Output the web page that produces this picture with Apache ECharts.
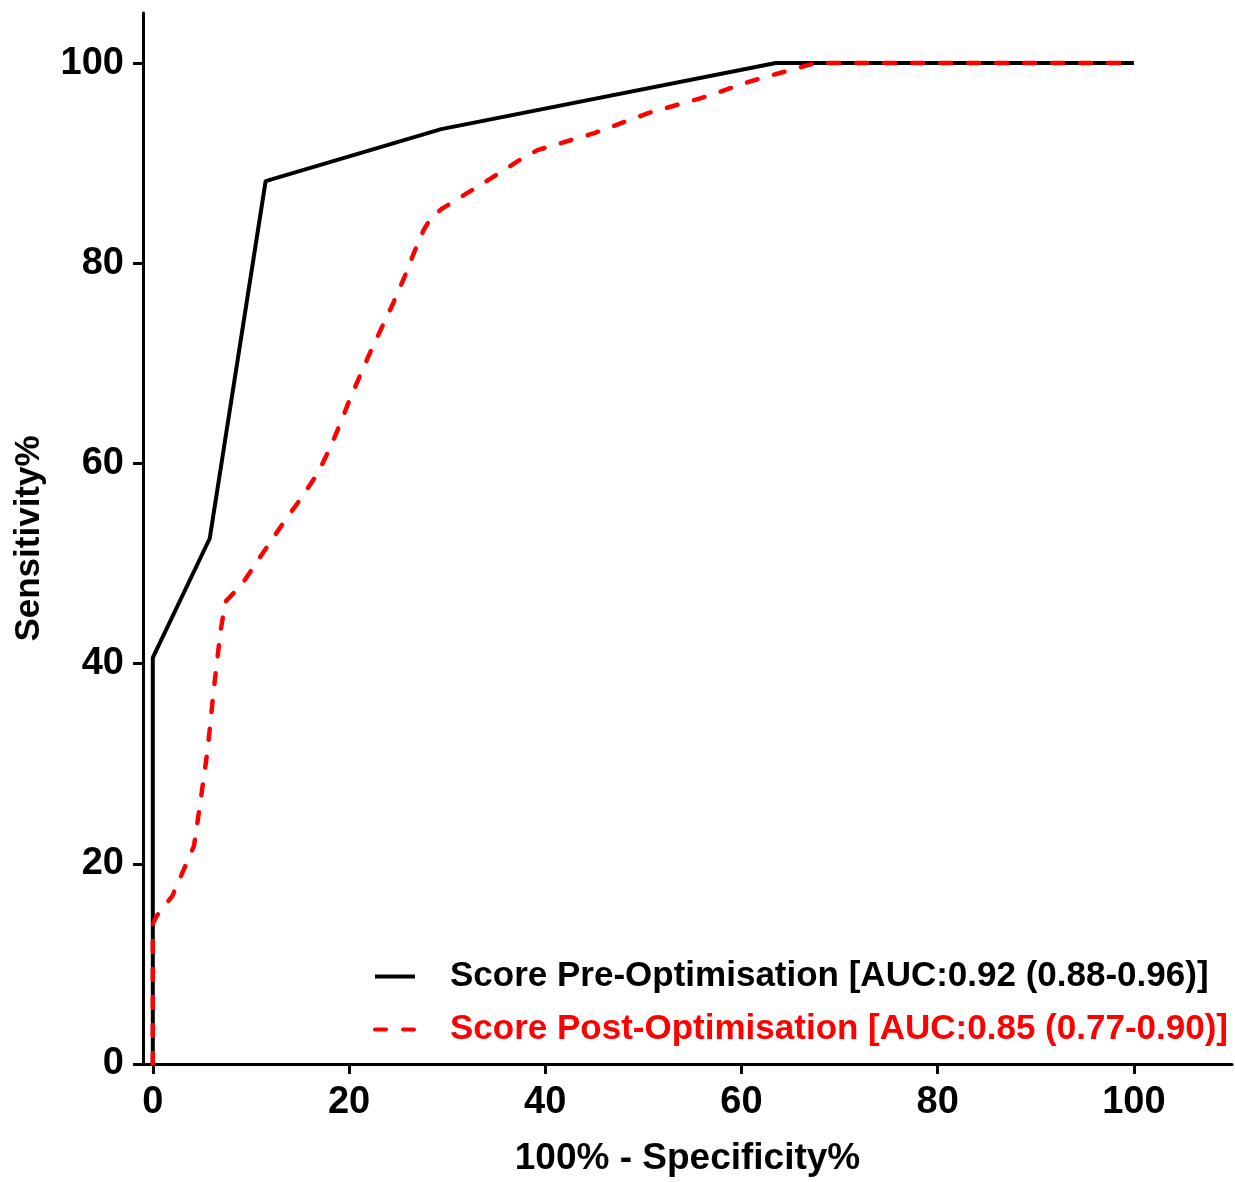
<!DOCTYPE html>
<html>
<head>
<meta charset="utf-8">
<script src="https://cdn.jsdelivr.net/npm/echarts@6/dist/echarts.min.js"></script>
<style>
html,body{margin:0;padding:0;background:#fff;}
#chart{width:1235px;height:1182px;}
</style>
</head>
<body>
<div id="chart"></div>
<script>
// ---- data ----
var xTicks = [0, 20, 40, 60, 80, 100];
var yTicks = [0, 20, 40, 60, 80, 100];

var preName = 'Score Pre-Optimisation [AUC:0.92 (0.88-0.96)]';
var preFpr  = [0, 0, 5.8, 11.5, 29.4, 63.5, 100];
var preSens = [0, 40.6, 52.5, 88.2, 93.4, 100, 100];

var postName = 'Score Post-Optimisation [AUC:0.85 (0.77-0.90)]';
var postFpr  = [0, 0, 0.4, 2.0, 3.1, 4.2, 4.9, 5.6, 6.2, 6.9, 7.4, 9.0, 10.7, 13.4, 15.1, 16.8, 17.9, 19.0, 20.0, 21.0, 22.2, 23.4, 24.5, 25.6, 26.6, 27.6, 28.4, 29.4, 31.7, 34.5, 37.2, 39.2, 41.6, 45.0, 50.5, 55.9, 61.0, 65.0, 67.5, 100];
var postSens = [0, 14.0, 14.8, 16.8, 19.3, 21.8, 26.5, 31.5, 37.3, 43.2, 46.2, 47.8, 50.3, 54.2, 56.5, 59.0, 61.2, 63.7, 66.2, 68.5, 71.2, 73.7, 76.0, 78.5, 81.0, 83.3, 84.6, 85.4, 86.8, 88.5, 90.2, 91.3, 92.0, 93.0, 95.0, 96.5, 98.2, 99.3, 100, 100];

function zip(a, b) { return a.map(function (v, i) { return [v, b[i]]; }); }

var FONT = '"Liberation Sans", Arial, sans-serif';
var chart = echarts.init(document.getElementById('chart'), null, {renderer: 'canvas'});
chart.setOption({
  animation: false,
  backgroundColor: '#fff',
  grid: {left: 143, right: 3, top: 13, bottom: 117, containLabel: false},
  xAxis: {
    type: 'value', min: -1, max: 110,
    name: '100% - Specificity%', nameLocation: 'middle', nameGap: 76,
    nameTextStyle: {fontFamily: FONT, fontWeight: 'bold', fontSize: 37, color: '#000'},
    axisLine: {show: true, onZero: false, lineStyle: {color: '#000', width: 3}},
    axisTick: {show: true, customValues: xTicks, length: 10, lineStyle: {color: '#000', width: 3}},
    axisLabel: {customValues: xTicks, margin: 20, fontFamily: FONT, fontWeight: 'bold', fontSize: 38, color: '#000'},
    splitLine: {show: false}
  },
  yAxis: {
    type: 'value', min: 0, max: 105,
    name: 'Sensitivity%', nameLocation: 'middle', nameGap: 96, nameRotate: 90,
    nameTextStyle: {fontFamily: FONT, fontWeight: 'bold', fontSize: 35, color: '#000'},
    axisLine: {show: true, onZero: false, lineStyle: {color: '#000', width: 3}},
    axisTick: {show: true, customValues: yTicks, length: 10, lineStyle: {color: '#000', width: 3}},
    axisLabel: {customValues: yTicks, margin: 19, fontFamily: FONT, fontWeight: 'bold', fontSize: 38, color: '#000'},
    splitLine: {show: false}
  },
  legend: {
    orient: 'vertical', left: 368, top: 954,
    itemWidth: 40, itemHeight: 14, itemGap: 18,
    itemStyle: {opacity: 0},
    lineStyle: {width: 4},
    textStyle: {fontFamily: FONT, fontWeight: 'bold', fontSize: 35, lineHeight: 35, padding: [0, 0, 0, 30]},
    data: [
      {name: preName, textStyle: {color: '#000'}},
      {name: postName, textStyle: {color: '#ff0000'}}
    ]
  },
  series: [
    {
      name: preName, type: 'line', data: zip(preFpr, preSens),
      symbol: 'none', smooth: false,
      lineStyle: {color: '#000', width: 4}, itemStyle: {color: '#000'}
    },
    {
      name: postName, type: 'line', data: zip(postFpr, postSens),
      symbol: 'none', smooth: false,
      lineStyle: {color: '#ff0000', width: 4.5, type: [11, 17], cap: 'round'}, itemStyle: {color: '#ff0000'}
    }
  ]
});
</script>
</body>
</html>
